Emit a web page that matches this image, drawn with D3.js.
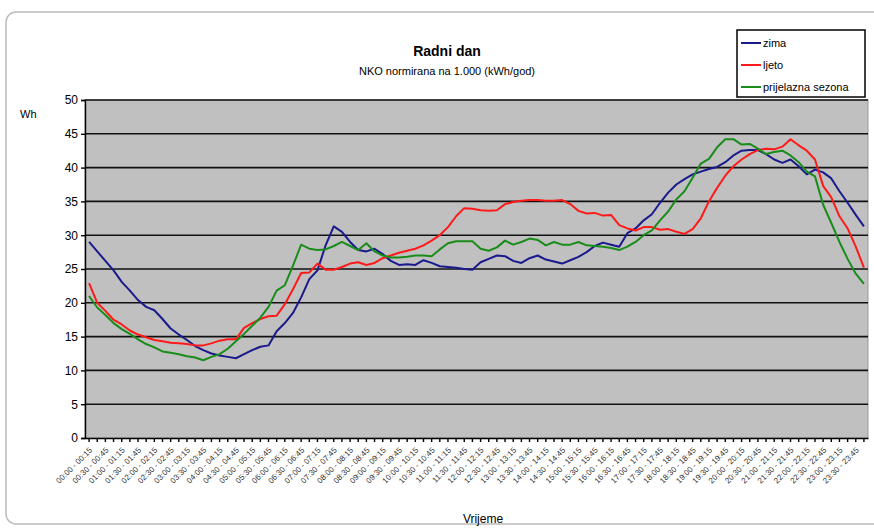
<!DOCTYPE html>
<html>
<head>
<meta charset="utf-8">
<script src="https://cdn.jsdelivr.net/npm/d3@7"></script>
<style>
body { margin: 0; background: #fff; }
text { font-family: "Liberation Sans Narrow", "Liberation Sans", Arial, sans-serif; }
</style>
</head>
<body>
<svg width="874" height="528"></svg>
<script>
// 96 quarter-hour intervals of a working day
var intervals = d3.range(96).map(function(i) {
	function hm(m) { return d3.format("02")(Math.floor(m / 60)) + ":" + d3.format("02")(m % 60); }
	return hm(i * 15) + " - " + hm(i * 15 + 15);
});

var zima = [29.0,27.6,26.2,24.8,23.1,21.8,20.4,19.4,18.9,17.6,16.2,15.3,14.5,13.6,13.0,12.5,
	12.2,12.0,11.8,12.4,13.0,13.5,13.7,15.8,17.0,18.5,20.8,23.5,24.8,28.5,31.3,30.5,
	29.0,27.8,27.6,28.0,27.2,26.2,25.6,25.7,25.6,26.3,25.9,25.4,25.3,25.2,25.0,24.9,
	26.0,26.5,27.0,26.9,26.2,25.9,26.6,27.0,26.4,26.1,25.8,26.3,26.8,27.5,28.4,28.9,
	28.6,28.3,30.3,31.0,32.2,33.1,34.8,36.3,37.5,38.3,39.0,39.4,39.8,40.1,40.8,41.8,
	42.5,42.6,42.6,42.0,41.2,40.7,41.2,40.2,39.0,39.7,39.3,38.4,36.5,34.8,33.0,31.3];

var ljeto = [22.9,20.0,18.8,17.5,16.8,15.9,15.3,14.9,14.5,14.3,14.1,14.0,13.9,13.7,13.7,14.0,
	14.4,14.6,14.6,16.3,17.0,17.6,18.0,18.1,19.8,22.0,24.4,24.5,25.8,24.9,24.9,25.3,
	25.8,26.0,25.6,25.9,26.6,27.0,27.4,27.7,28.0,28.5,29.2,30.0,31.2,32.8,34.0,33.9,
	33.7,33.6,33.7,34.6,34.9,35.1,35.2,35.2,35.1,35.1,35.2,34.6,33.6,33.2,33.3,32.9,
	33.0,31.5,31.0,30.7,31.2,31.2,30.8,30.9,30.5,30.2,30.9,32.5,35.0,37.0,38.8,40.2,
	41.2,42.0,42.6,42.8,42.7,43.1,44.2,43.3,42.5,41.2,37.3,35.6,32.8,31.0,28.3,25.2];

var prijelazna = [21.0,19.3,18.2,17.0,16.1,15.4,14.6,13.9,13.4,12.8,12.6,12.4,12.1,11.9,11.5,12.0,
	12.4,13.2,14.3,15.4,16.6,17.8,19.4,21.8,22.6,25.5,28.6,28.0,27.8,27.9,28.4,29.0,
	28.4,27.8,28.8,27.6,27.0,26.7,26.7,26.8,27.0,27.0,26.9,27.9,28.8,29.1,29.1,29.1,
	28.0,27.7,28.2,29.2,28.6,29.0,29.5,29.3,28.5,29.0,28.6,28.6,29.0,28.5,28.4,28.3,
	28.1,27.8,28.3,29.0,30.0,30.7,32.2,33.5,35.3,36.5,38.5,40.6,41.3,43.0,44.2,44.2,
	43.4,43.5,42.8,42.0,42.3,42.5,41.8,40.8,39.4,38.7,34.5,31.8,29.0,26.5,24.3,22.8];

var yTicks = [0, 5, 10, 15, 20, 25, 30, 35, 40, 45, 50];

var seriesNames = ["zima", "ljeto", "prijelazna sezona"];
var seriesColors = ["#1a1a8c", "#ff1a1a", "#1a8c1a"];

function main() {
	var svg = d3.select("svg");
	var left = 85, right = 868, top = 100, bottom = 438;

	// outer chart frame
	svg.append("rect").attr("x", 6).attr("y", 12).attr("width", 890).attr("height", 512)
		.attr("rx", 10).attr("fill", "#fff").attr("stroke", "#bbb").attr("stroke-width", 1.5);

	svg.append("text").attr("x", 447).attr("y", 56).attr("text-anchor", "middle")
		.attr("font-size", "14px").attr("font-weight", "bold").text("Radni dan");
	svg.append("text").attr("x", 447).attr("y", 75).attr("text-anchor", "middle")
		.attr("font-size", "11px").text("NKO normirana na 1.000 (kWh/god)");

	var xScale = d3.scaleBand().domain(intervals).range([left, right]).padding(0);
	var yScale = d3.scaleLinear().domain([0, 50]).range([bottom, top]);

	svg.append("rect").attr("x", left).attr("y", top).attr("width", right - left).attr("height", bottom - top)
		.attr("fill", "#c0c0c0").attr("stroke", "#999").attr("stroke-width", 1);

	// gridlines
	svg.append("g").selectAll("line").data(yTicks.slice(1)).enter().append("line")
		.attr("x1", left).attr("x2", right)
		.attr("y1", function(d){ return yScale(d); }).attr("y2", function(d){ return yScale(d); })
		.attr("stroke", "#111").attr("stroke-width", 1.6);

	var yAxis = svg.append("g").attr("transform", "translate(" + left + ",0)")
		.call(d3.axisLeft(yScale).tickValues(yTicks).tickSize(4).tickPadding(3));
	yAxis.selectAll("text").attr("font-size", "12px").attr("fill", "#000");
	yAxis.selectAll("line, path").attr("stroke", "#000").attr("stroke-width", 1.4);

	var xAxis = svg.append("g").attr("transform", "translate(0," + bottom + ")")
		.call(d3.axisBottom(xScale).tickSize(4).tickSizeOuter(0)
			.tickFormat(function(d, i){ return i % 2 === 0 ? d : ""; }));
	xAxis.selectAll("line, path").attr("stroke", "#000").attr("stroke-width", 1.4);
	xAxis.selectAll("text").attr("font-size", "8px").attr("fill", "#333")
		.attr("text-anchor", "end").attr("dy", "0.3em")
		.attr("transform", "translate(-3,6) rotate(-45)");

	svg.append("text").attr("x", 20).attr("y", 118).attr("font-size", "11px").text("Wh");
	svg.append("text").attr("x", 483).attr("y", 523).attr("text-anchor", "middle")
		.attr("font-size", "12px").text("Vrijeme");

	var line = d3.line()
		.x(function(d, i){ return xScale(intervals[i]) + xScale.bandwidth() / 2; })
		.y(function(d){ return yScale(d); });

	[zima, ljeto, prijelazna].forEach(function(s, k) {
		svg.append("path").datum(s).attr("d", line).attr("fill", "none")
			.attr("stroke", seriesColors[k]).attr("stroke-width", 2).attr("stroke-linejoin", "round");
	});

	// legend
	var lg = svg.append("g").attr("transform", "translate(737,30)");
	lg.append("rect").attr("width", 128).attr("height", 67).attr("fill", "#fff")
		.attr("stroke", "#000").attr("stroke-width", 1.5);
	seriesNames.forEach(function(n, k) {
		var y = 13 + k * 22;
		lg.append("line").attr("x1", 4).attr("x2", 24).attr("y1", y).attr("y2", y)
			.attr("stroke", seriesColors[k]).attr("stroke-width", 2);
		lg.append("text").attr("x", 26).attr("y", y + 4).attr("font-size", "11px").text(n);
	});
}
main();
</script>
</body>
</html>
